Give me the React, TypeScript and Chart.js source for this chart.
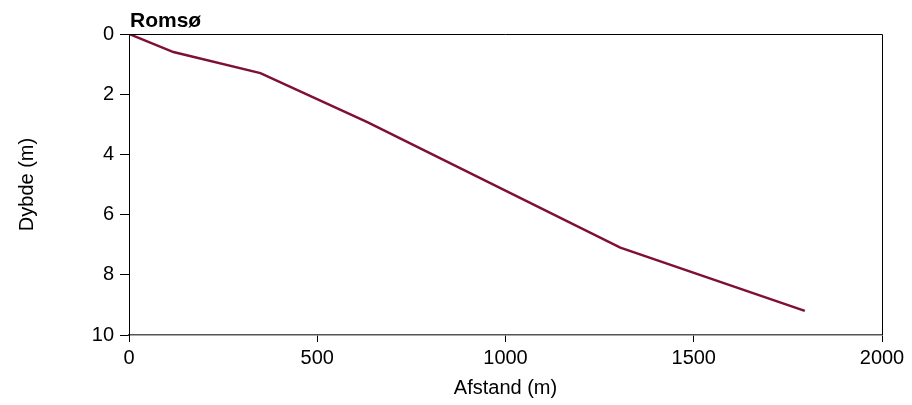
import React, { useEffect, useRef } from "react";
import { Chart, registerables } from "chart.js";

Chart.register(...registerables);

const chartTitle = "Romsø";
const xAxisLabel = "Afstand (m)";
const yAxisLabel = "Dybde (m)";
const distances = [0, 118, 349, 633, 1305, 1795];
const depths = [0, 0.6, 1.3, 2.93, 7.1, 9.2];
const xTickValues = [0, 500, 1000, 1500, 2000];
const yTickValues = [0, 2, 4, 6, 8, 10];

const FONT = "Arial, 'Liberation Sans', sans-serif";

const framePlugin = {
  id: "frameAndTitle",
  afterDraw(chart: any) {
    const { ctx, chartArea } = chart;
    const { left, right, top, bottom } = chartArea;
    ctx.save();
    ctx.strokeStyle = "#000";
    ctx.lineWidth = 1;
    ctx.beginPath();
    ctx.moveTo(left, Math.round(top) + 0.5);
    ctx.lineTo(Math.round(right) + 0.5, Math.round(top) + 0.5);
    ctx.lineTo(Math.round(right) + 0.5, bottom);
    ctx.stroke();
    ctx.fillStyle = "#000";
    ctx.font = `bold 21px ${FONT}`;
    ctx.textAlign = "left";
    ctx.textBaseline = "alphabetic";
    ctx.fillText(chartTitle, left + 1, top - 7);
    ctx.restore();
  },
};

export default function App() {
  const ref = useRef<HTMLCanvasElement>(null);
  useEffect(() => {
    document.body.style.margin = "0";
    const canvas = ref.current!;
    const chart = new Chart(canvas, {
      type: "line",
      data: {
        datasets: [
          {
            data: distances.map((d, i) => ({ x: d, y: depths[i] })),
            borderColor: "#7f1034",
            borderWidth: 2.5,
            pointRadius: 0,
            fill: false,
            tension: 0,
          },
        ],
      },
      options: {
        animation: false,
        responsive: false,
        maintainAspectRatio: false,
        devicePixelRatio: 1,
        layout: { padding: { top: 34, right: 30, left: 0, bottom: 0 } },
        plugins: {
          legend: { display: false },
          tooltip: { enabled: false },
          title: { display: false },
        },
        scales: {
          x: {
            type: "linear",
            position: "bottom",
            min: 0,
            max: 2000,
            afterBuildTicks: (s: any) => {
              s.ticks = xTickValues.map((v) => ({ value: v }));
            },
            afterFit: (s: any) => {
              s.height = 70;
            },
            ticks: {
              color: "#000",
              font: { family: FONT, size: 20 },
              padding: 4,
              maxRotation: 0,
              callback: (v: any) => String(v),
            },
            grid: {
              drawOnChartArea: false,
              drawTicks: true,
              tickLength: 7,
              color: "#000",
            },
            border: { display: true, color: "#555", width: 1.5 },
            title: {
              display: true,
              text: xAxisLabel,
              color: "#000",
              font: { family: FONT, size: 20 },
              padding: { top: 0, bottom: 5 },
            },
          },
          y: {
            type: "linear",
            position: "left",
            reverse: true,
            min: 0,
            max: 10,
            afterBuildTicks: (s: any) => {
              s.ticks = yTickValues.map((v) => ({ value: v }));
            },
            afterFit: (s: any) => {
              s.width = 129;
            },
            ticks: {
              color: "#000",
              font: { family: FONT, size: 20 },
              padding: 6,
              callback: (v: any) => String(v),
            },
            grid: {
              drawOnChartArea: false,
              drawTicks: true,
              tickLength: 9,
              color: "#000",
            },
            border: { display: true, color: "#000", width: 1 },
            title: {
              display: true,
              text: yAxisLabel,
              color: "#000",
              font: { family: FONT, size: 20 },
              padding: { top: 15, bottom: 0 },
            },
          },
        },
      },
      plugins: [framePlugin],
    });
    return () => chart.destroy();
  }, []);
  return (
    <div style={{ width: 912, height: 405, position: "relative" }}>
      <canvas ref={ref} width={912} height={405} style={{ display: "block" }} />
    </div>
  );
}
